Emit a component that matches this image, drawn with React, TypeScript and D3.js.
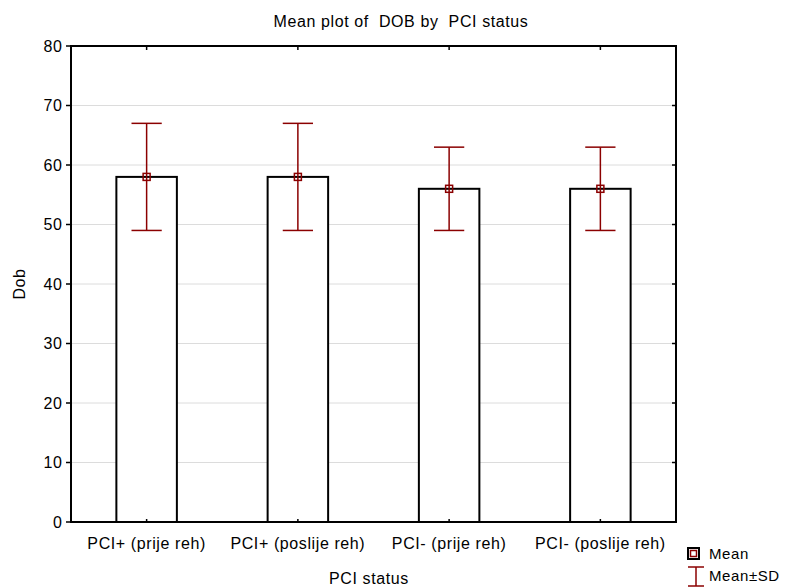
import React from "react";
import * as d3 from "d3";

const categories = ["PCI+ (prije reh)", "PCI+ (poslije reh)", "PCI- (prije reh)", "PCI- (poslije reh)"];
const means = [58, 58, 56, 56];
const sds = [9, 9, 7, 7];
const yTicks = [0, 10, 20, 30, 40, 50, 60, 70, 80];

const W = 787, H = 588;
const L = 71, R = 676, T = 46, B = 522;
const RED = "#8b0000";
const FONT = "Liberation Sans, Arial, sans-serif";
const LS = 0.6;

export default function App() {
  const x = d3.scaleBand<string>().domain(categories).range([L, R]).paddingInner(0).paddingOuter(0);
  const y = d3.scaleLinear().domain([0, 80]).range([B, T]);
  const bw = x.bandwidth() * 0.4;
  const cap = x.bandwidth() * 0.2;
  return (
    <svg width={W} height={H} style={{ position: "absolute", left: 0, top: 0, background: "#fff" }} fontFamily={FONT} letterSpacing={LS}>
      <text x={401} y={27} textAnchor="middle" fontSize={16} style={{ whiteSpace: "pre" }}>{"Mean plot of  DOB by  PCI status"}</text>
      {yTicks.map((t) => (
        <g key={t}>
          {t > 0 && t < 80 && <line x1={L} x2={R} y1={y(t)} y2={y(t)} stroke="#dcdcdc" strokeWidth={1} />}
          <line x1={L - 5} x2={L} y1={y(t)} y2={y(t)} stroke="#000" strokeWidth={1.5} />
          <line x1={R - 4} x2={R} y1={y(t)} y2={y(t)} stroke="#000" strokeWidth={1.5} />
          <text x={L - 8.5} y={y(t) + 5.5} textAnchor="end" fontSize={16}>{t}</text>
        </g>
      ))}
      {categories.map((c, i) => {
        const cx = x(c)! + x.bandwidth() / 2;
        return (
          <g key={c}>
            <rect x={cx - bw / 2} y={y(means[i])} width={bw} height={y(0) - y(means[i])} fill="#fff" stroke="#000" strokeWidth={2} />
            <line x1={cx} x2={cx} y1={T} y2={T + 4} stroke="#000" strokeWidth={1.5} />
            <line x1={cx} x2={cx} y1={B} y2={B - 3} stroke="#000" strokeWidth={1.5} />
            <line x1={cx} x2={cx} y1={y(means[i] + sds[i])} y2={y(means[i] - sds[i])} stroke={RED} strokeWidth={1.5} />
            <line x1={cx - cap / 2} x2={cx + cap / 2} y1={y(means[i] + sds[i])} y2={y(means[i] + sds[i])} stroke={RED} strokeWidth={1.5} />
            <line x1={cx - cap / 2} x2={cx + cap / 2} y1={y(means[i] - sds[i])} y2={y(means[i] - sds[i])} stroke={RED} strokeWidth={1.5} />
            <rect x={cx - 3.5} y={y(means[i]) - 3.5} width={7} height={7} fill="none" stroke={RED} strokeWidth={1.5} />
            <text x={cx} y={549} textAnchor="middle" fontSize={16}>{c}</text>
          </g>
        );
      })}
      <rect x={L} y={T} width={R - L} height={B - T} fill="none" stroke="#000" strokeWidth={2} />
      <text x={369} y={584} textAnchor="middle" fontSize={16}>PCI status</text>
      <text transform={`translate(25,284) rotate(-90)`} textAnchor="middle" fontSize={16}>Dob</text>
      <g>
        <rect x={688} y={548} width={11} height={11} fill="none" stroke="#000" strokeWidth={2} />
        <rect x={690.5} y={550.5} width={6} height={6} fill="none" stroke={RED} strokeWidth={1.5} />
        <text x={709} y={559} fontSize={15}>Mean</text>
        <line x1={696} x2={696} y1={567} y2={586} stroke={RED} strokeWidth={1.5} />
        <line x1={688} x2={704} y1={567} y2={567} stroke={RED} strokeWidth={1.5} />
        <line x1={688} x2={704} y1={586} y2={586} stroke={RED} strokeWidth={1.5} />
        <text x={709} y={581} fontSize={15}>Mean±SD</text>
      </g>
    </svg>
  );
}
